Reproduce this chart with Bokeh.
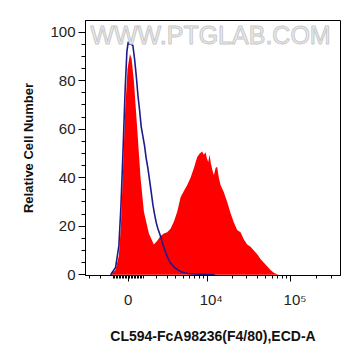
import numpy as np
from bokeh.plotting import figure
from bokeh.models import FixedTicker, Label, Range1d
from bokeh.embed import file_html
from bokeh.resources import INLINE

# ---- data (x in biexponential display units: 0 -> 0, one decade ~ 1 unit) ----
red_x = [-0.209, -0.150, -0.111, -0.087, -0.063, -0.036, -0.008, 0.020, 0.040, 0.067,
         0.107, 0.146, 0.186, 0.245, 0.304, 0.344, 0.383, 0.423, 0.462, 0.502,
         0.542, 0.581, 0.621, 0.660, 0.700, 0.739, 0.779, 0.818, 0.848, 0.877,
         0.897, 0.917, 0.933, 0.949, 0.965, 0.980, 1.000, 1.016, 1.036, 1.055,
         1.075, 1.095, 1.134, 1.174, 1.213, 1.253, 1.292, 1.332, 1.372, 1.411,
         1.451, 1.490, 1.530, 1.569, 1.609, 1.648, 1.688, 1.727, 1.767, 1.790]
red_y = [0, 2, 8, 20, 42, 68, 85, 91, 89, 80,
         60, 40, 26, 17, 12.5, 14, 16, 17, 17.5, 19,
         22, 26, 32, 34.5, 37, 40, 44, 48.5, 50, 50.8,
         49.5, 50.5, 48, 46.5, 49.5, 46, 43, 41, 44, 44.5,
         40, 37, 34, 30, 25.5, 21.5, 18.5, 17.5, 14.5, 12.5,
         11.5, 10, 8.5, 6.5, 5, 3.5, 2, 0.8, 0.2, 0]

blue_x = [-0.209, -0.150, -0.111, -0.087, -0.063, -0.036, -0.016, 0.000, 0.016, 0.036,
          0.055, 0.075, 0.095, 0.115, 0.134, 0.154, 0.174, 0.194, 0.213, 0.233,
          0.253, 0.273, 0.292, 0.312, 0.332, 0.352, 0.372, 0.391, 0.411, 0.431,
          0.451, 0.470, 0.490, 0.510, 0.549, 0.589, 0.628, 0.668, 0.708, 0.787,
          0.866, 0.945, 1.024]
blue_y = [0, 3, 12, 28, 50, 77, 92, 96, 95, 95,
          94.5, 89, 82, 74, 68, 61, 57, 53, 48, 44,
          39, 34, 29, 25, 21.5, 19, 17, 15, 12.5, 10.5,
          8.5, 7, 5.5, 4.5, 3, 2, 1.2, 0.8, 0.5, 0.3,
          0.2, 0.1, 0]

major_vals = [0, 1e4, 1e5]
minor_vals = ([-3000, -2000, -1000] + [-900, -800, -700, -600, -500, -400, -300, -200, -100]
              + [100, 200, 300, 400, 500, 600, 700, 800, 900]
              + [1000, 2000, 3000, 4000, 5000, 6000, 7000, 8000, 9000]
              + [20000, 30000, 40000, 50000, 60000, 70000, 80000, 90000]
              + [200000, 300000])
major_text = ["0", "\u00a0\u00a010\u2074", "\u00a0\u00a010\u2075"]

C = 2356.0
def T(v):
    return np.arcsinh(np.asarray(v, dtype=float) / C) / np.log(10)

FONT = "Liberation Sans"

p = figure(width=361, height=356, output_backend="svg", toolbar_location=None,
           x_range=Range1d(-0.507, 2.518), y_range=Range1d(-0.3, 104.8),
           min_border_left=85, min_border_right=21, min_border_top=20, min_border_bottom=81)
p.grid.visible = False
p.outline_line_color = "black"
p.outline_line_width = 1
p.background_fill_color = "white"
p.border_fill_color = "white"

p.varea(x=red_x, y1=0, y2=red_y, color="#ff0000")
p.line(blue_x, blue_y, line_color="#1f1a8a", line_width=1.6)

# watermark
p.add_layout(Label(x=0.976, y=99.0, text="WWW.PTGLAB.COM", text_align="center",
                   text_baseline="middle", text_font=FONT, text_font_size="25px",
                   text_color="#f0f0f0", text_outline_color="#c8c8c8"))

# x axis
xmaj = [float(v) for v in T(major_vals)]
p.xaxis.ticker = FixedTicker(ticks=xmaj, minor_ticks=[float(v) for v in T(minor_vals)])
p.xaxis.major_label_overrides = {k: t for k, t in zip(xmaj, major_text)}
p.xaxis.major_label_text_font = FONT
p.xaxis.major_label_text_font_size = "15px"
p.xaxis.major_label_text_color = "#222222"
p.xaxis.major_label_standoff = 9
p.xaxis.major_tick_out = 6
p.xaxis.major_tick_in = 0
p.xaxis.minor_tick_out = 3
p.xaxis.minor_tick_in = 0
p.xaxis.axis_label = "CL594-FcA98236(F4/80),ECD-A"
p.xaxis.axis_label_text_font = FONT
p.xaxis.axis_label_text_font_style = "bold"
p.xaxis.axis_label_text_font_size = "14px"
p.xaxis.axis_label_text_color = "#111111"
p.xaxis.axis_label_standoff = 17

# y axis
p.yaxis.ticker = FixedTicker(ticks=[0, 20, 40, 60, 80, 100],
                             minor_ticks=[5, 10, 15, 25, 30, 35, 45, 50, 55, 65, 70, 75, 85, 90, 95])
p.yaxis.major_label_text_font = FONT
p.yaxis.major_label_text_font_size = "15px"
p.yaxis.major_label_text_color = "#222222"
p.yaxis.major_label_standoff = 3
p.yaxis.major_tick_out = 7
p.yaxis.major_tick_in = 0
p.yaxis.minor_tick_out = 4
p.yaxis.minor_tick_in = 0
p.yaxis.axis_label = "Relative Cell Number"
p.yaxis.axis_label_text_font = FONT
p.yaxis.axis_label_text_font_style = "bold"
p.yaxis.axis_label_text_font_size = "13px"
p.yaxis.axis_label_text_color = "#111111"
p.yaxis.axis_label_standoff = 11

for ax in (p.xaxis, p.yaxis):
    ax.axis_line_color = "black"
    ax.major_tick_line_color = "black"
    ax.minor_tick_line_color = "black"

open("out.html", "w").write(file_html(p, INLINE))
